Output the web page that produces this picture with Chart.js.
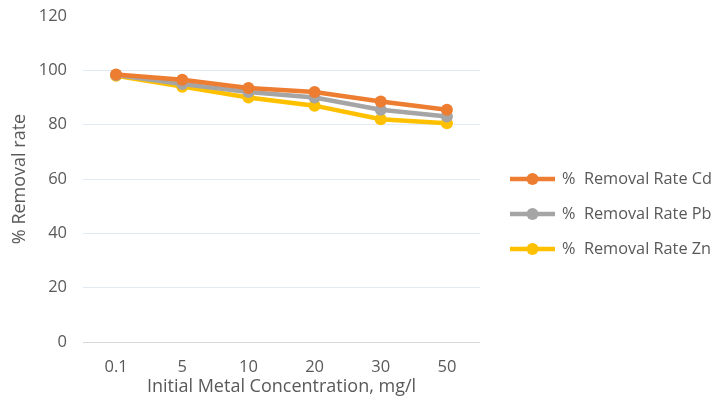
<!DOCTYPE html>
<html>
<head>
<meta charset="utf-8">
<script src="https://cdn.jsdelivr.net/npm/chart.js@4"></script>
<style>
  html, body { margin: 0; padding: 0; background: #fff; }
  #wrap { width: 715px; height: 408px; position: relative; }
</style>
</head>
<body>
<div id="wrap"><canvas id="c" width="715" height="408"></canvas></div>
<script>
// Initial metal concentration (mg/l) categories
const concentrations = ['0.1', '5', '10', '20', '30', '50'];

// Removal percentages per metal
const removalCd = [98.5, 96.5, 93.5, 92, 88.5, 85.5];
const removalPb = [98.3, 95, 92, 90, 85.5, 83];
const removalZn = [98, 94, 90, 87, 82, 80.5];

const seriesNames = ['%  Removal Rate Cd', '%  Removal Rate Pb', '%  Removal Rate Zn'];
const seriesColors = ['#ED7D31', '#A5A5A5', '#FFC000'];

const yTitle = '% Removal rate';
const xTitle = 'Initial Metal Concentration, mg/l';

const FONT = "'Open Sans', 'Liberation Sans', sans-serif";
const TEXT = '#595959';

function series(label, data, color) {
  return {
    label, data,
    borderColor: color,
    backgroundColor: color,
    borderWidth: 4.5,
    pointRadius: 6,
    pointHoverRadius: 6,
    pointBorderWidth: 0,
    tension: 0
  };
}

// Legend drawn to the right of the plot: line + marker, then the label
const sideLegend = {
  id: 'sideLegend',
  afterDraw(chart) {
    const ctx = chart.ctx;
    const x0 = 510, lineW = 45, textX = 562;
    const ys = [179, 214, 249];
    ctx.save();
    chart.data.datasets.forEach((ds, i) => {
      const y = ys[i];
      ctx.strokeStyle = ds.borderColor;
      ctx.lineWidth = 4.5;
      ctx.beginPath();
      ctx.moveTo(x0, y);
      ctx.lineTo(x0 + lineW, y);
      ctx.stroke();
      ctx.fillStyle = ds.borderColor;
      ctx.beginPath();
      ctx.arc(x0 + lineW / 2, y, 6, 0, Math.PI * 2);
      ctx.fill();
      ctx.fillStyle = TEXT;
      ctx.font = "16.3px " + FONT;
      ctx.textBaseline = 'middle';
      ctx.textAlign = 'left';
      ctx.fillText(ds.label, textX, y);
    });
    ctx.restore();
  }
};

new Chart(document.getElementById('c'), {
  type: 'line',
  data: {
    labels: concentrations,
    datasets: [
      series(seriesNames[0], removalCd, seriesColors[0]),
      series(seriesNames[1], removalPb, seriesColors[1]),
      series(seriesNames[2], removalZn, seriesColors[2])
    ]
  },
  options: {
    responsive: false,
    animation: false,
    layout: { padding: { left: 5, right: 235, top: 16, bottom: 6 } },
    plugins: {
      legend: { display: false },
      tooltip: { enabled: false }
    },
    scales: {
      x: {
        offset: true,
        grid: { display: false },
        border: { display: false },
        ticks: { color: TEXT, font: { family: FONT, size: 16.5 }, padding: 7 },
        title: { display: true, text: xTitle, color: TEXT, font: { family: FONT, size: 18 }, padding: { top: 0 } },
        afterFit(s) { s.height = 60; s.paddingLeft = 0; s.paddingRight = 0; }
      },
      y: {
        min: 0, max: 120,
        ticks: { stepSize: 20, color: TEXT, font: { family: FONT, size: 16.5 }, padding: 16 },
        grid: {
          color: (c) => c.tick.value === 120 ? 'rgba(0,0,0,0)' : (c.tick.value === 0 ? '#D9D9D9' : '#E1EAF2'),
          lineWidth: 1,
          drawTicks: false
        },
        border: { display: false },
        title: { display: true, text: yTitle, color: TEXT, font: { family: FONT, size: 18 }, padding: { bottom: 4 } },
        afterFit(s) { s.width = 78; s.paddingTop = 0; s.paddingBottom = 0; }
      }
    }
  },
  plugins: [sideLegend]
});
</script>
</body>
</html>
